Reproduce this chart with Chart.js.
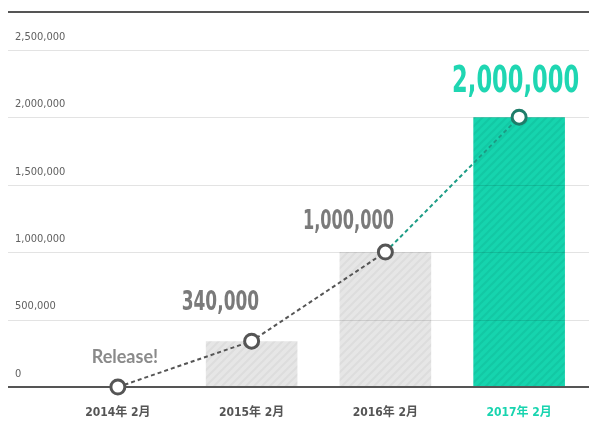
<!DOCTYPE html>
<html>
<head>
<meta charset="utf-8">
<script src="https://cdn.jsdelivr.net/npm/chart.js@4/dist/chart.umd.min.js"></script>
<style>
  html, body { margin: 0; padding: 0; background: #ffffff; }
  #wrap { width: 590px; height: 423px; }
</style>
</head>
<body>
<div id="wrap"><canvas id="c" width="590" height="423"></canvas></div>
<script>
// ---- data ----
const categories = ['2014年 2月', '2015年 2月', '2016年 2月', '2017年 2月'];
const barValues = [0, 340000, 1000000, 2000000];
const lineValues = [0, 340000, 1000000, 2000000];
const pointLabels = ['Release!', '340,000', '1,000,000', '2,000,000'];
const yTickValues = [0, 500000, 1000000, 1500000, 2000000, 2500000];
const yMax = 2780000;

// ---- styles ----
const GRAY_TEXT = '#7a7a7a';
const TEAL = '#18d4af';
const TEAL_TEXT = '#1fd6b2';
const TEAL_LINE = '#1c9c85';
const TEAL_POINT = '#1f7d6a';
const DARK = '#555555';
const GRID = 'rgba(0,0,0,0.11)';
const CONDENSED = '"DejaVu Sans Condensed", "Noto Sans CJK JP", sans-serif';

const labelStyles = [
  { dx: 7,    dy: -30,   size: 18, sx: 1.0,  align: 'center', color: '#8a8a8a', family: 'Lato, "DejaVu Sans", sans-serif' },
  { dx: 7.5,  dy: -38,   size: 27, sx: 0.70, align: 'right',  color: GRAY_TEXT, family: CONDENSED },
  { dx: 8.5,  dy: -30,   size: 26, sx: 0.69, align: 'right',  color: GRAY_TEXT, family: CONDENSED },
  { dx: -3.5, dy: -35,   size: 38, sx: 0.66, align: 'center', color: TEAL_TEXT, family: CONDENSED }
];

function stripePattern(base, stripe) {
  const s = 8;
  const p = document.createElement('canvas');
  p.width = s; p.height = s;
  const g = p.getContext('2d');
  g.fillStyle = base;
  g.fillRect(0, 0, s, s);
  g.strokeStyle = stripe;
  g.lineWidth = 2;
  g.beginPath();
  g.moveTo(-2, s + 2); g.lineTo(s + 2, -2);
  g.moveTo(-2, 2); g.lineTo(2, -2);
  g.moveTo(s - 2, s + 2); g.lineTo(s + 2, s - 2);
  g.stroke();
  return document.getElementById('c').getContext('2d').createPattern(p, 'repeat');
}
const grayPat = stripePattern('#e6e6e6', '#dddddd');
const tealPat = stripePattern('#16d4ae', '#13c8a4');
const barColors = [grayPat, grayPat, grayPat, tealPat];
const pointBorders = [DARK, DARK, DARK, TEAL_POINT];
const xLabelColors = ['#555555', '#555555', '#555555', TEAL];

const gridPlugin = {
  id: 'gridOverBars',
  afterDatasetDraw(chart, args) {
    if (args.meta.type !== 'bar') return;
    const ctx = chart.ctx;
    const y = chart.scales.y;
    const ca = chart.chartArea;
    const x0 = 8, x1 = 589;
    ctx.save();
    ctx.lineWidth = 1;
    ctx.strokeStyle = GRID;
    yTickValues.forEach(v => {
      if (v === 0) return;
      const py = Math.round(y.getPixelForValue(v)) + 0.5;
      ctx.beginPath(); ctx.moveTo(x0, py); ctx.lineTo(x1, py); ctx.stroke();
    });
    ctx.strokeStyle = DARK;
    ctx.lineWidth = 2;
    const pz = Math.round(y.getPixelForValue(0));
    ctx.beginPath(); ctx.moveTo(x0, pz); ctx.lineTo(x1, pz); ctx.stroke();
    const pt = Math.round(ca.top);
    ctx.beginPath(); ctx.moveTo(x0, pt); ctx.lineTo(x1, pt); ctx.stroke();
    ctx.restore();
  }
};

const labelPlugin = {
  id: 'pointLabels',
  afterDatasetsDraw(chart) {
    const ctx = chart.ctx;
    const meta = chart.getDatasetMeta(1);
    meta.data.forEach((pt, i) => {
      const st = labelStyles[i];
      ctx.save();
      ctx.translate(pt.x + st.dx, pt.y + st.dy);
      ctx.scale(st.sx, 1);
      ctx.font = 'bold ' + st.size + 'px ' + st.family;
      ctx.fillStyle = st.color;
      ctx.textAlign = st.align;
      ctx.textBaseline = 'middle';
      ctx.fillText(pointLabels[i], 0, 0);
      ctx.restore();
    });
  }
};

new Chart(document.getElementById('c'), {
  data: {
    labels: categories,
    datasets: [
      {
        type: 'bar',
        data: barValues,
        backgroundColor: barColors,
        borderWidth: 0,
        categoryPercentage: 1,
        barPercentage: 0.685,
        order: 1
      },
      {
        type: 'line',
        data: lineValues,
        borderColor: DARK,
        borderWidth: 2,
        borderDash: [4, 3],
        tension: 0,
        fill: false,
        pointRadius: 7,
        pointBorderWidth: 3,
        pointBackgroundColor: '#ffffff',
        pointBorderColor: pointBorders,
        segment: {
          borderColor: c => c.p0DataIndex === 2 ? TEAL_LINE : DARK
        },
        clip: false,
        order: 0
      }
    ]
  },
  options: {
    responsive: false,
    animation: false,
    devicePixelRatio: 1,
    layout: { autoPadding: false, padding: { left: 15, right: 4, top: 12, bottom: 0 } },
    plugins: { legend: { display: false }, tooltip: { enabled: false } },
    scales: {
      x: {
        afterFit: s => { s.height = 36; s.paddingLeft = 0; s.paddingRight = 0; },
        grid: { display: false, drawTicks: false },
        border: { display: false },
        ticks: {
          color: xLabelColors,
          padding: 19,
          maxRotation: 0,
          font: { family: CONDENSED, size: 12, weight: 'bold' }
        }
      },
      y: {
        min: 0,
        max: yMax,
        afterBuildTicks: s => { s.ticks = yTickValues.map(v => ({ value: v })); },
        afterFit: s => { s.width = 36; s.paddingTop = 0; s.paddingBottom = 0; },
        grid: { display: false, drawTicks: false },
        border: { display: false },
        ticks: {
          mirror: true,
          crossAlign: 'near',
          padding: -36,
          labelOffset: -13,
          color: '#606060',
          font: { family: CONDENSED, size: 11 },
          callback: v => Number(v).toLocaleString('en-US')
        }
      }
    }
  },
  plugins: [gridPlugin, labelPlugin]
});
</script>
</body>
</html>
